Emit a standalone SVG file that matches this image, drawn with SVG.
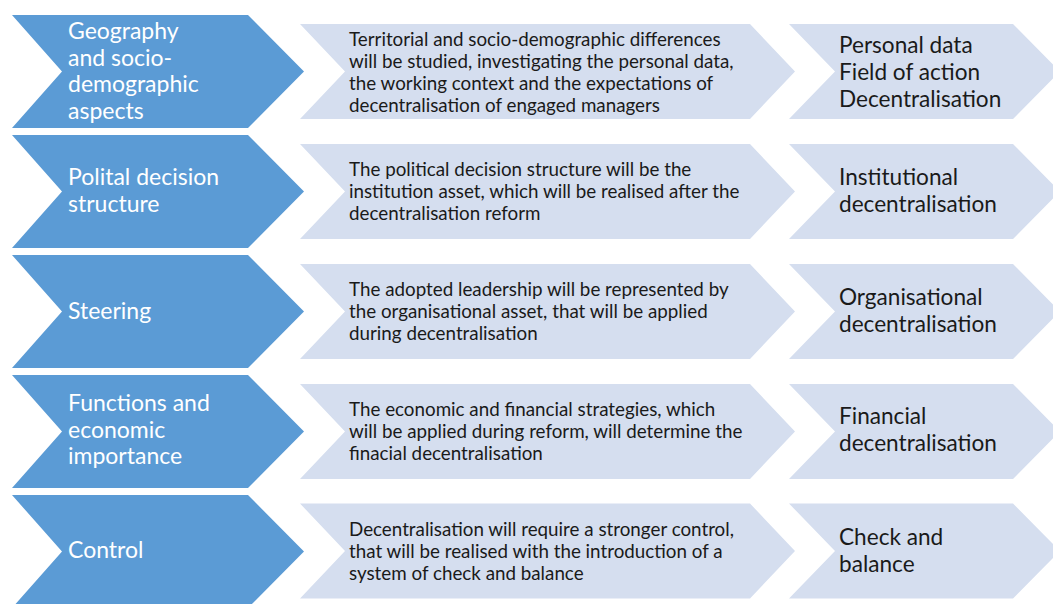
<svg xmlns="http://www.w3.org/2000/svg" xmlns:xlink="http://www.w3.org/1999/xlink" width="1053" height="604" viewBox="0 0 1053 604">
  <style>
    .head { fill: #5B9BD5; }
    .step { fill: #D5DEEF; }
    .t-head { font-family: Lato, "Liberation Sans", sans-serif; font-size: 23px; fill: #ffffff; }
    .t-desc { font-family: Lato, "Liberation Sans", sans-serif; font-size: 18.8px; fill: #1a1a1a; }
    .t-res { font-family: Lato, "Liberation Sans", sans-serif; font-size: 22.6px; fill: #1a1a1a; }
  </style>
  <defs>
    <!-- chevron outlines, drawn at the row origin -->
    <polygon id="chev-head" points="12,0 248,0 304,56.5 248,113 12,113 62,56.5"/>
    <polygon id="chev-desc" points="300,0 750,0 795,47.5 750,95 300,95 345,47.5"/>
    <polygon id="chev-res" points="789,0 1013,0 1060,47.5 1013,95 789,95 835,47.5"/>
  </defs>
  <rect width="1053" height="604" fill="#ffffff"/>

  <!-- row 1 -->
  <g id="head-geography">
    <use xlink:href="#chev-head" class="head" y="15"/>
    <text class="t-head" x="68" y="39">Geography</text>
    <text class="t-head" x="68" y="65.5">and socio-</text>
    <text class="t-head" x="68" y="92.2">demographic</text>
    <text class="t-head" x="68" y="119.3">aspects</text>
  </g>
  <g id="desc-geography">
    <use xlink:href="#chev-desc" class="step" y="24"/>
    <text class="t-desc" x="349" y="46">Territorial and socio-demographic differences</text>
    <text class="t-desc" x="349" y="67.8">will be studied, investigating the personal data,</text>
    <text class="t-desc" x="349" y="89.6">the working context and the expectations of</text>
    <text class="t-desc" x="349" y="111.6">decentralisation of engaged managers</text>
  </g>
  <g id="res-geography">
    <use xlink:href="#chev-res" class="step" y="24"/>
    <text class="t-res" x="839" y="53">Personal data</text>
    <text class="t-res" x="839" y="80">Field of action</text>
    <text class="t-res" x="839" y="107">Decentralisation</text>
  </g>

  <!-- row 2 -->
  <g id="head-political">
    <use xlink:href="#chev-head" class="head" y="135"/>
    <text class="t-head" x="68" y="184.5">Polital decision</text>
    <text class="t-head" x="68" y="211.5">structure</text>
  </g>
  <g id="desc-political">
    <use xlink:href="#chev-desc" class="step" y="144"/>
    <text class="t-desc" x="349" y="176">The political decision structure will be the</text>
    <text class="t-desc" x="349" y="197.8">institution asset, which will be realised after the</text>
    <text class="t-desc" x="349" y="219.6">decentralisation reform</text>
  </g>
  <g id="res-political">
    <use xlink:href="#chev-res" class="step" y="144"/>
    <text class="t-res" x="839" y="184.5">Institutional</text>
    <text class="t-res" x="839" y="211.5">decentralisation</text>
  </g>

  <!-- row 3 -->
  <g id="head-steering">
    <use xlink:href="#chev-head" class="head" y="255"/>
    <text class="t-head" x="68" y="319">Steering</text>
  </g>
  <g id="desc-steering">
    <use xlink:href="#chev-desc" class="step" y="264"/>
    <text class="t-desc" x="349" y="296">The adopted leadership will be represented by</text>
    <text class="t-desc" x="349" y="317.8">the organisational asset, that will be applied</text>
    <text class="t-desc" x="349" y="339.6">during decentralisation</text>
  </g>
  <g id="res-steering">
    <use xlink:href="#chev-res" class="step" y="264"/>
    <text class="t-res" x="839" y="304.5">Organisational</text>
    <text class="t-res" x="839" y="331.5">decentralisation</text>
  </g>

  <!-- row 4 -->
  <g id="head-functions">
    <use xlink:href="#chev-head" class="head" y="375"/>
    <text class="t-head" x="68" y="411">Functions and</text>
    <text class="t-head" x="68" y="437.5">economic</text>
    <text class="t-head" x="68" y="464.2">importance</text>
  </g>
  <g id="desc-functions">
    <use xlink:href="#chev-desc" class="step" y="384"/>
    <text class="t-desc" x="349" y="416">The economic and financial strategies, which</text>
    <text class="t-desc" x="349" y="437.8">will be applied during reform, will determine the</text>
    <text class="t-desc" x="349" y="459.6">finacial decentralisation</text>
  </g>
  <g id="res-functions">
    <use xlink:href="#chev-res" class="step" y="384"/>
    <text class="t-res" x="839" y="424">Financial</text>
    <text class="t-res" x="839" y="451">decentralisation</text>
  </g>

  <!-- row 5 -->
  <g id="head-control">
    <use xlink:href="#chev-head" class="head" y="495"/>
    <text class="t-head" x="68" y="557.5">Control</text>
  </g>
  <g id="desc-control">
    <use xlink:href="#chev-desc" class="step" y="503.5"/>
    <text class="t-desc" x="349" y="536">Decentralisation will require a stronger control,</text>
    <text class="t-desc" x="349" y="557.8">that will be realised with the introduction of a</text>
    <text class="t-desc" x="349" y="579.6">system of check and balance</text>
  </g>
  <g id="res-control">
    <use xlink:href="#chev-res" class="step" y="503.5"/>
    <text class="t-res" x="839" y="545">Check and</text>
    <text class="t-res" x="839" y="572">balance</text>
  </g>
</svg>
